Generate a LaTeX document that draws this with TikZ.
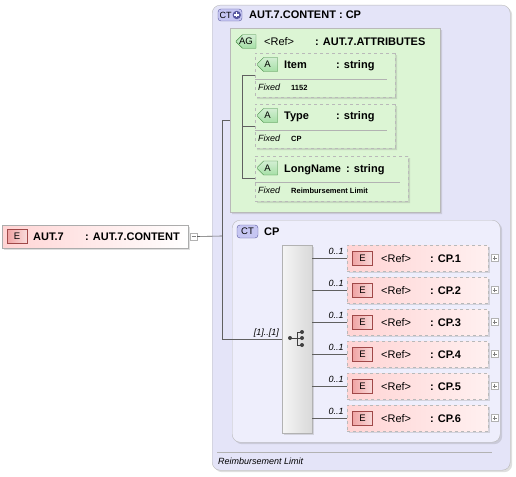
\documentclass[tikz,border=0pt]{standalone}
\usepackage{fontspec}
\setmainfont{Liberation Sans}
\usetikzlibrary{shapes.misc,shadows,positioning}

\definecolor{elpink}{HTML}{FFD4D4}
\definecolor{ebadgefill}{HTML}{F0A4A4}
\definecolor{ebadgeline}{HTML}{A04848}
\definecolor{ctback}{HTML}{E4E4F8}
\definecolor{cpback}{HTML}{EEEEFC}
\definecolor{ctbadgefill}{HTML}{C6C6F2}
\definecolor{ctbadgeline}{HTML}{5858A0}
\definecolor{agback}{HTML}{DCF5D4}
\definecolor{abadgefill}{HTML}{A6DFA6}
\definecolor{abadgeline}{HTML}{3E863E}

\begin{document}
\begin{tikzpicture}[x=1pt, y=-1pt, font=\fontsize{11}{13}\selectfont\bfseries,
    shade/.style={drop shadow={shadow xshift=2pt, shadow yshift=-2pt, opacity=0.25}},
    lbl/.style={inner sep=0pt, anchor=west, text height=8pt, text depth=0pt},
    reflbl/.style={lbl, font=\fontsize{11}{13}\selectfont\mdseries},
    small/.style={inner sep=0pt, anchor=west, text height=6.5pt, text depth=0pt,
      font=\fontsize{9}{10}\selectfont\itshape},
    fixval/.style={small, font=\fontsize{7.5}{9}\selectfont\bfseries},
    badge/.style={inner sep=0pt, minimum height=14pt, text height=6.5pt, text depth=0pt,
      font=\fontsize{9.5}{11}\selectfont\mdseries},
    ebadge/.style={badge, rectangle, minimum width=20pt, draw=ebadgeline,
      left color=ebadgefill, right color=ebadgefill!40!white},
    ctbadge/.style={badge, rectangle, rounded corners=3pt, draw=ctbadgeline, fill=ctbadgefill},
    abadge/.style={badge, chamfered rectangle, chamfered rectangle corners={north west,south west},
      chamfered rectangle xsep=3pt, draw=abadgeline, minimum width=20pt,
      top color=abadgefill!50!white, bottom color=abadgefill},
    elembox/.style={rectangle, anchor=north west, inner sep=0pt, draw=gray!65,
      left color=elpink, right color=white, shade},
    childbox/.style={rectangle, anchor=north west, inner sep=0pt, draw=gray!55, dashed,
      left color=elpink, right color=elpink!35!white, shade},
    attrbox/.style={chamfered rectangle, chamfered rectangle xsep=4pt, chamfered rectangle ysep=4pt,
      anchor=north west, inner sep=0pt, draw=gray!55, dashed, fill=agback, shade},
    ctbox/.style={rectangle, rounded corners=8pt, anchor=north west, inner sep=0pt,
      draw=gray!55, fill=ctback, shade},
    minusbox/.style={rectangle, draw=gray!60, fill=white, minimum size=7pt, inner sep=0pt,
      path picture={\draw[gray, thin] ([xshift=1.5pt]path picture bounding box.west)
        -- ([xshift=-1.5pt]path picture bounding box.east);}},
    plusbox/.style={rectangle, draw=gray!60, fill=white, minimum size=7pt, inner sep=0pt,
      path picture={\draw[gray, thin] ([xshift=1.5pt]path picture bounding box.west)
        -- ([xshift=-1.5pt]path picture bounding box.east)
        ([yshift=1.5pt]path picture bounding box.south)
        -- ([yshift=-1.5pt]path picture bounding box.north);}},
    conn/.style={draw=gray!75!black, line width=0.6pt},
    sepline/.style={draw=gray!60, line width=0.6pt}]
  \useasboundingbox (0,0) rectangle (516,476);

  % top element
  \node[elembox, minimum width=186pt, minimum height=23pt] (aut7) at (2,225) {};
  \node[ebadge] (aut7E) at (17,236.5) {E};
  \node[lbl] (aut7name) at (33,236.5) {AUT.7};
  \node[lbl] (aut7type) at (85,236.5) {: AUT.7.CONTENT};
  \node[minusbox] (aut7min) at (193.5,236.5) {};

  % complex type AUT.7.CONTENT
  \node[ctbox, minimum width=298pt, minimum height=465pt] (content) at (212,5) {};
  \node[ctbadge, minimum width=24pt, minimum height=12pt] (contentCT) at (230,15) {};
  \node[badge, anchor=west, font=\fontsize{9}{10}\selectfont] (contentCTtext) at (219.5,15) {CT};
  \fill[ctbadgeline] (236.8,15) circle[radius=4.2pt];
  \draw[white, line width=1.1pt] (234.3,15) -- (239.3,15) (236.8,12.5) -- (236.8,17.5);
  \node[lbl] (contenttitle) at (249,15) {AUT.7.CONTENT : CP};
  \draw[sepline] (217,452) -- (492,452);
  \node[small] (contentdoc) at (218,461) {Reimbursement Limit};

  % attribute group
  \node[attrbox, chamfered rectangle corners={north west,south west}, solid, fill=agback,
    minimum width=210pt, minimum height=184pt] (attrs) at (230,28) {};
  \node[abadge, minimum height=13pt] (attrsAG) at (246,41.5) {AG};
  \node[reflbl] (attrsref) at (264,41.5) {<Ref>};
  \node[lbl] (attrstype) at (315,41.5) {: AUT.7.ATTRIBUTES};

  \node[attrbox, minimum width=140pt, minimum height=44pt] (item) at (255,53) {};
  \node[abadge] (itemA) at (267.5,64.5) {A};
  \node[lbl] (itemname) at (284,64.5) {Item};
  \node[lbl] (itemtype) at (336,64.5) {: string};
  \draw[sepline] (255,79) -- (387,79);
  \node[small] (itemfixed) at (258,87) {Fixed};
  \node[fixval] (itemval) at (291,87) {1152};

  \node[attrbox, minimum width=140pt, minimum height=44pt] (type) at (255,104) {};
  \node[abadge] (typeA) at (267.5,115.5) {A};
  \node[lbl] (typename) at (284,115.5) {Type};
  \node[lbl] (typetype) at (336,115.5) {: string};
  \draw[sepline] (255,130) -- (387,130);
  \node[small] (typefixed) at (258,138) {Fixed};
  \node[fixval] (typeval) at (291,138) {CP};

  \node[attrbox, minimum width=153pt, minimum height=45pt] (longname) at (255,156) {};
  \node[abadge] (longnameA) at (267.5,168) {A};
  \node[lbl] (longnamename) at (284,168) {LongName};
  \node[lbl] (longnametype) at (346,168) {: string};
  \draw[sepline] (255,182) -- (400,182);
  \node[small] (longnamefixed) at (258,190) {Fixed};
  \node[fixval] (longnameval) at (291,190) {Reimbursement Limit};

  \coordinate (agfork) at (242,120);
  \draw[conn] (item.west) -| (agfork);
  \draw[conn] (type.west) -| (agfork);
  \draw[conn] (longname.west) -| (agfork);

  % complex type CP
  \node[ctbox, fill=cpback, minimum width=268pt, minimum height=222pt] (cp) at (232,220) {};
  \node[ctbadge, minimum width=21pt, minimum height=13pt] (cpCT) at (247.5,231.5) {CT};
  \node[lbl] (cpname) at (264,231.5) {CP};

  % sequence
  \node[rectangle, anchor=north west, draw=gray!60, left color=gray!8, right color=gray!30,
    minimum width=30pt, minimum height=188pt, inner sep=0pt, shade] (seq) at (282,245) {};
  \draw[black!75, line width=0.9pt] (290,338) -- (297,338) (297,332) -- (297,345)
    (297,332) -- (302,332) (297,338) -- (302,338) (297,345) -- (302,345);
  \fill[black!75] (290,338) circle[radius=2pt] (302,332) circle[radius=2pt]
    (302,338) circle[radius=2pt] (302,345) circle[radius=2pt];

  \coordinate (fork) at (222,236);
  \draw[conn] (aut7min.east) -- (fork);
  \draw[conn] (attrs.west) -| (fork);
  \draw[conn] (seq.west) -| (fork);
  \node[small, anchor=south east] (seqcard) at (279,336) {[1]..[1]};

  % children of the sequence
  \foreach \i in {1,...,6} {
    \pgfmathsetmacro{\top}{245+(\i-1)*32}
    \pgfmathsetmacro{\mid}{\top+13}
    \node[childbox, minimum width=141pt, minimum height=26pt] (cp\i) at (347,\top) {};
    \node[ebadge] (cp\i E) at (362.5,\mid) {E};
    \node[reflbl] (cp\i ref) at (381,\mid) {<Ref>};
    \node[lbl] (cp\i type) at (430,\mid) {: CP.\i};
    \node[plusbox] (cp\i plus) at (494.5,\mid) {};
    \draw[conn] (seq.east |- cp\i.west) -- (cp\i.west)
      node[small, pos=1, anchor=south east, xshift=-3pt, yshift=3pt] {0..1};
  }
\end{tikzpicture}
\end{document}
